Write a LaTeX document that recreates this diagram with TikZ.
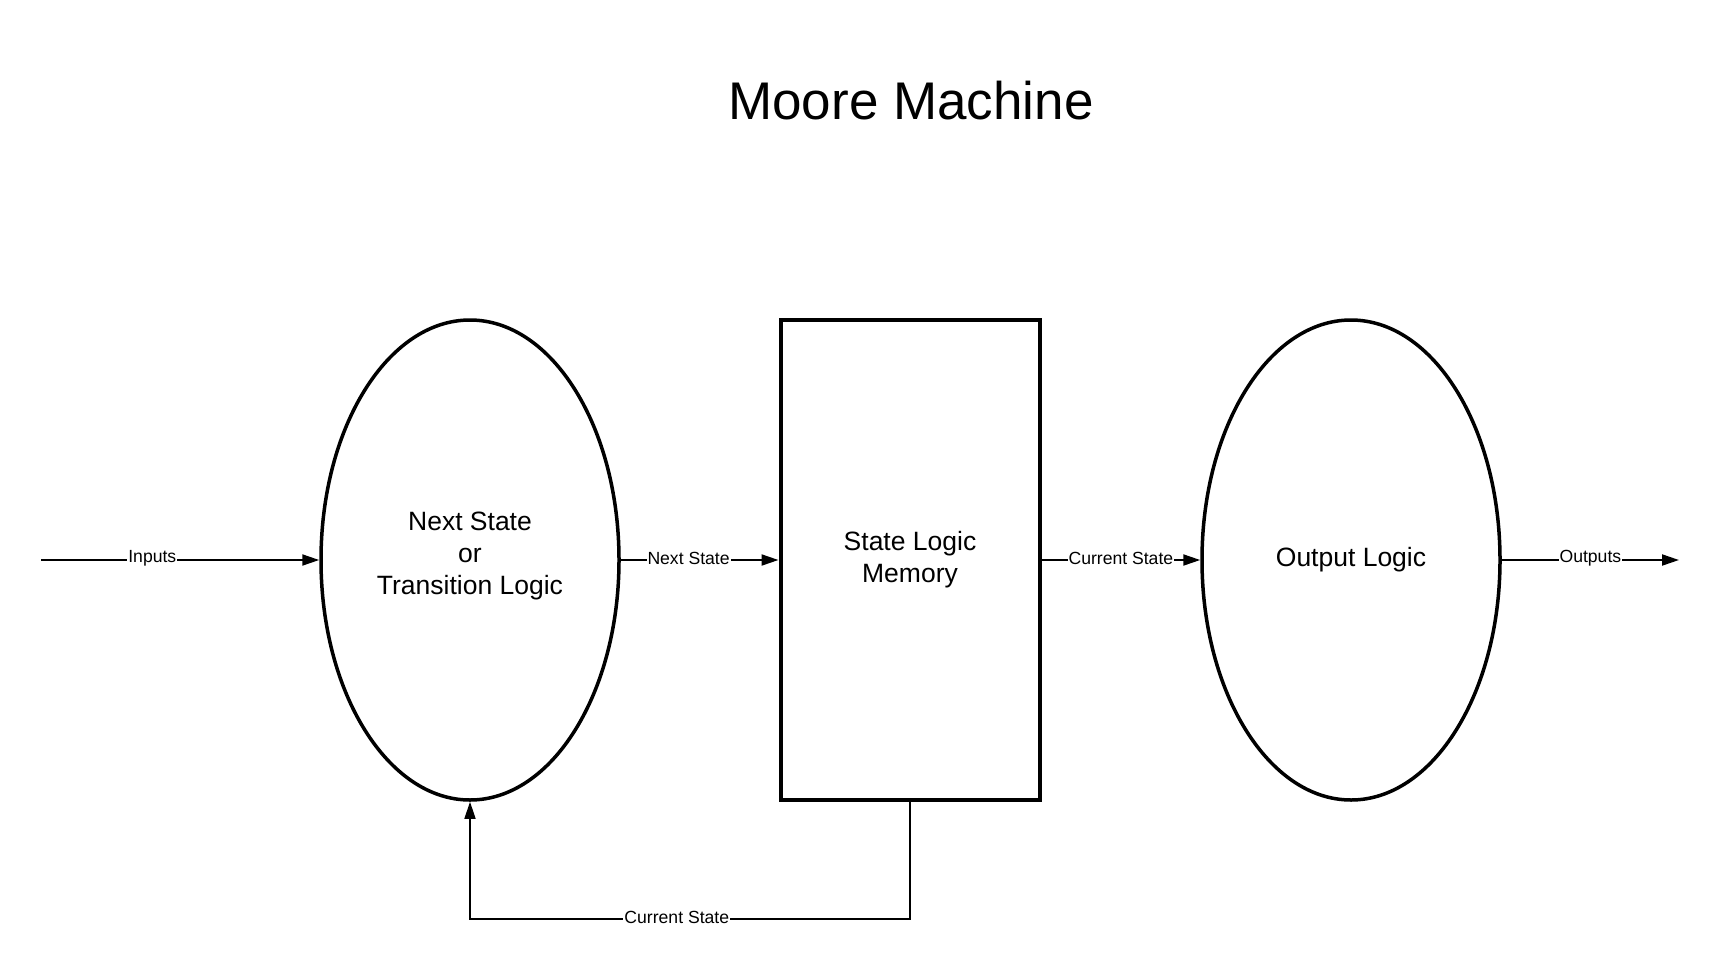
\documentclass[tikz,border=0pt]{standalone}
\usepackage{fontspec}
\setmainfont{Liberation Sans}
\usepackage{tikz}
\usetikzlibrary{shapes.geometric, arrows.meta, positioning, calc}

\tikzset{
  logic/.style={draw, ellipse, line width=3.5pt, minimum width=298pt, minimum height=480pt,
    inner sep=0pt, align=center, font=\fontsize{26.5}{32}\selectfont},
  memory/.style={draw, rectangle, line width=4pt, minimum width=259pt, minimum height=480pt,
    inner sep=0pt, align=center, font=\fontsize{26.5}{32}\selectfont},
  flow/.style={-{Triangle[length=17pt,width=11pt]}, line width=2pt},
  feedback/.style={-{Triangle[length=17pt,width=11pt]}, line width=1.5pt},
  lbl/.style={fill=white, inner sep=1pt, yshift=1.5pt, font=\fontsize{17.6}{20}\selectfont}
}

\begin{document}
\begin{tikzpicture}[x=1pt, y=-1pt]
\useasboundingbox (0,0) rectangle (1720,971);

% Title
\node (title) at (911,101) {\fontsize{53}{60}\selectfont Moore Machine};

% Blocks
\node[logic, text depth=14pt] (nsl) at (470,560) {Next State\\or\\Transition Logic};
\node[memory] (mem) at (910,560) {State Logic\\Memory};
\node[logic] (out) at (1351,560) {Output Logic};

% Free ends
\coordinate (in) at (41,560);
\coordinate (outend) at (1679,560);
\coordinate (fbr) at (910,919);
\coordinate (fbl) at (470,919);

% Forward path
\draw[flow] (in) -- node[lbl, pos=0.40] {Inputs} (nsl);
\draw[flow] (nsl) -- node[lbl, pos=0.43] {Next State} (mem);
\draw[flow] (mem) -- node[lbl, pos=0.50] {Current State} (out);
\draw[flow] (out) -- node[lbl, pos=0.50] {Outputs} (outend);

% Feedback
\draw[feedback] (mem.south) -- (fbr) -- node[lbl, pos=0.53] {Current State} (fbl) -- (nsl.south);
\end{tikzpicture}
\end{document}
